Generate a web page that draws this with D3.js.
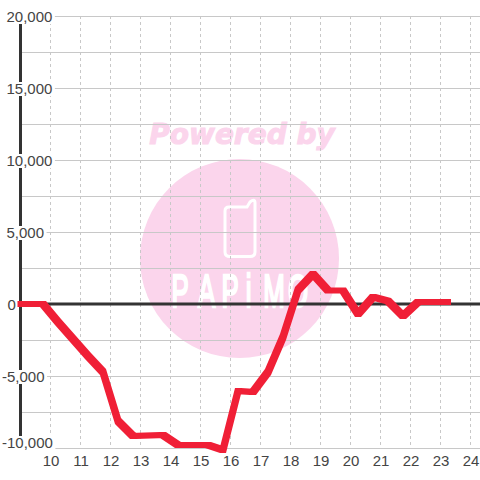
<!DOCTYPE html>
<html><head><meta charset="utf-8">
<script src="https://cdnjs.cloudflare.com/ajax/libs/d3/7.8.5/d3.min.js"></script>
<style>html,body{margin:0;padding:0;background:#fff}svg{display:block}</style>
</head><body><svg id="c" width="480" height="480"></svg>
<script>
const hours = [9,9.75,10.25,10.75,11.25,11.75,12.25,12.75,13.25,13.75,14.25,14.75,15.25,15.75,16.25,16.75,17.25,17.75,18.25,18.75,19.25,19.75,20.25,20.75,21.25,21.75,22.25,22.75,23.25];
const values = [0,0,-1250,-2430,-3610,-4720,-8125,-9170,-9130,-9100,-9790,-9790,-9790,-10140,-6040,-6110,-4720,-2290,970,2080,940,940,-690,490,210,-830,140,140,140];
const xTicks = [10,11,12,13,14,15,16,17,18,19,20,21,22,23,24];
const yGrid = [-10000,-7500,-5000,-2500,0,2500,5000,7500,10000,12500,15000,17500,20000];
const yLabels = [-10000,-5000,0,5000,10000,15000,20000];
const brandTop = "Powered by";
const brandName = ["P","A","P","i","M","O"];

const svg = d3.select("#c");
const x = d3.scaleLinear().domain([9,9+(480-20.5)/30]).range([20.5,480]);
const y = d3.scaleLinear().domain([-10000,20000]).range([448,16]);
const font = '"Liberation Sans",Arial,sans-serif';
const pink = "#fbd5ec";

// watermark
svg.append("circle").attr("cx",239.5).attr("cy",258.5).attr("r",99.5).attr("fill",pink);
svg.append("text").attr("x",242).attr("y",144).attr("text-anchor","middle")
  .attr("font-family","DejaVu Sans").attr("font-weight","bold").attr("font-style","italic")
  .attr("font-size",28).attr("fill",pink).attr("stroke",pink).attr("stroke-width",1).text(brandTop);
const phone = d3.path();
phone.moveTo(229,207); phone.lineTo(247,207); phone.lineTo(250,202);
phone.quadraticCurveTo(255,198,255,203); phone.lineTo(255,252);
phone.quadraticCurveTo(255,256.5,250,256.5); phone.lineTo(230,256.5);
phone.quadraticCurveTo(225,256.5,225,252); phone.lineTo(225,211);
phone.quadraticCurveTo(225,207,229,207); phone.closePath();
svg.append("path").attr("d",phone.toString()).attr("fill","none").attr("stroke","#fff").attr("stroke-width",3);
const letterX = [180,206.5,230,248.5,274,298];
svg.append("g").selectAll("text").data(brandName).join("text")
  .attr("transform",(d,i)=>`translate(${letterX[i]},307) scale(.55,1)`)
  .attr("text-anchor","middle").attr("font-family",font).attr("font-size",47)
  .attr("fill","#fff").attr("stroke","#fff").attr("stroke-width",2.6).text(d=>d);

// grid
svg.append("g").selectAll("line").data(yGrid).join("line")
  .attr("x1",x(9)).attr("x2",480).attr("y1",d=>y(d)+.5).attr("y2",d=>y(d)+.5)
  .attr("stroke","#c8c8c8").attr("stroke-width",1);
svg.append("g").selectAll("line").data(xTicks).join("line")
  .attr("x1",d=>x(d)).attr("x2",d=>x(d)).attr("y1",16).attr("y2",448)
  .attr("stroke","#c8c8c8").attr("stroke-width",1).attr("stroke-dasharray","3 3");

// axes
svg.append("line").attr("x1",x(9)).attr("x2",x(9)).attr("y1",y(20000)).attr("y2",449).attr("stroke","#333").attr("stroke-width",3);
svg.append("line").attr("x1",x(9)).attr("x2",480).attr("y1",y(0)).attr("y2",y(0)).attr("stroke","#333").attr("stroke-width",3);

// y labels: white plate behind each, then text; lowest label lifted to stay above the x labels
const fmt = d3.format(",");
const labelText = d => fmt(d).replace("\u2212","-");
const labelX = d => d < 0 ? 2 : (d === 0 ? 7.5 : 6.5);
const lift = d => d === -10000 ? 6 : 0;
const yl = svg.append("g").selectAll("g").data(yLabels).join("g");
yl.append("rect").attr("fill","#fff");
const labels = yl.append("text").attr("x",labelX).attr("y",d=>y(d)+6-lift(d))
  .attr("font-family",font).attr("font-size",15).attr("fill","#444").text(labelText);
labels.each(function(d){
  const w = this.getComputedTextLength();
  d3.select(this.parentNode).select("rect")
    .attr("x",labelX(d)-1).attr("width",w+3.5)
    .attr("y",y(d)-6-lift(d)).attr("height",14);
});
svg.append("g").selectAll("text").data(xTicks).join("text")
  .attr("x",d=>x(d)+.5).attr("y",466).attr("text-anchor","middle")
  .attr("font-family",font).attr("font-size",15).attr("fill","#444").text(d=>d);

// data line, drawn with a square 6px pen: each segment is the hull of the pen at both ends
const pen = 3;
const pts = values.map((v,i)=>[x(hours[i]),y(v)]);
const square = ([a,b]) => [[a-pen,b-pen],[a+pen,b-pen],[a+pen,b+pen],[a-pen,b+pen]];
const segs = d3.pairs(pts).map(([p,q]) => "M" + d3.polygonHull([...square(p),...square(q)]).join("L") + "Z");
svg.append("path").attr("d",segs.join("")).attr("fill","#f01f36").attr("fill-rule","nonzero");
</script></body></html>
